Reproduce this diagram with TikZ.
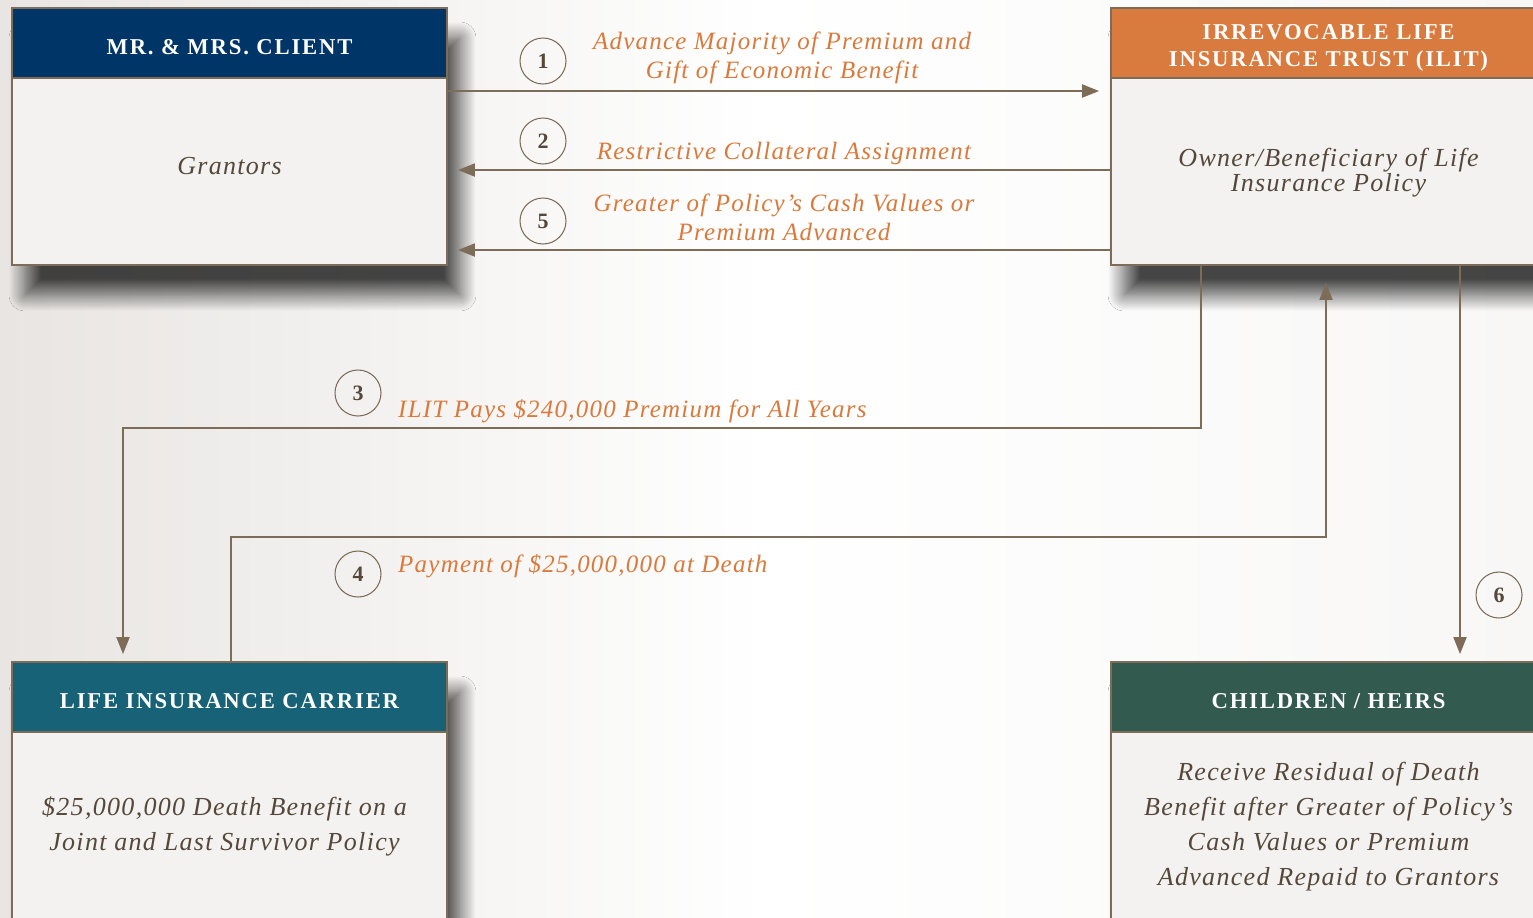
\documentclass[tikz,border=0pt]{standalone}
\usepackage{fontspec}
\setmainfont{Liberation Serif}
\newfontfamily\capsfont[LetterSpace=8]{Liberation Serif}
\newfontfamily\slantfont[LetterSpace=5]{Liberation Serif}
\usetikzlibrary{arrows.meta,calc,shadows.blur}

\definecolor{navy}{RGB}{0,53,103}
\definecolor{ilitorange}{RGB}{217,123,63}
\definecolor{carrierteal}{RGB}{23,98,118}
\definecolor{heirsgreen}{RGB}{50,90,78}
\definecolor{panel}{RGB}{243,242,240}
\definecolor{edge}{RGB}{124,108,88}
\definecolor{flowtext}{RGB}{217,122,60}
\definecolor{bodytext}{RGB}{85,72,58}
\definecolor{bgleft}{RGB}{232,229,226}
\definecolor{bgright}{RGB}{248,247,246}

\begin{document}
\begin{tikzpicture}[x=0.02cm,y=-0.02cm,
    box/.style={rectangle,draw=edge,line width=1.1pt,fill=panel,inner sep=0pt,
      minimum width=8.7cm,minimum height=5.14cm,
      blur shadow={shadow xshift=0.26cm,shadow yshift=-0.6cm,shadow blur radius=0.32cm,
        shadow blur steps=24,shadow opacity=72}},
    head/.style={rectangle,draw=edge,line width=1.1pt,inner sep=0pt,anchor=north,
      minimum width=8.7cm,minimum height=1.4cm},
    title/.style={align=center,text=white,yshift=-0.09cm,
      font=\capsfont\bfseries\fontsize{12.9}{15.3}\selectfont},
    inside/.style={align=center,text=bodytext,font=\slantfont\itshape\fontsize{14.8}{20}\selectfont},
    flowlabel/.style={align=center,text=flowtext,font=\slantfont\itshape\fontsize{14.2}{16.5}\selectfont},
    numcirc/.style={circle,draw=edge,line width=0.6pt,minimum size=0.92cm,inner sep=0pt,
      text=bodytext,font=\bfseries\fontsize{12.5}{12.5}\selectfont},
    flow/.style={draw=edge,line width=1.1pt,-{Triangle[length=0.34cm,width=0.26cm]}}]

  \useasboundingbox (0,0) rectangle (1533,917);
  \clip (0,0) rectangle (1533,917);
  \shade[left color=bgleft,right color=bgright,middle color=white] (0,0) rectangle (1533,917);

  % parties
  \node[box] (clientbox) at (229.5,136.5) {};
  \node[head,fill=navy] (clienthead) at (clientbox.north) {};
  \node[title] (clienttitle) at (clienthead.center) {MR. \& MRS. CLIENT};
  \node[inside,yshift=0.13cm] (client) at ($(clienthead.south)!.5!(clientbox.south)$) {Grantors};

  \node[box] (ilitbox) at (1328.5,136.5) {};
  \node[head,fill=ilitorange] (ilithead) at (ilitbox.north) {};
  \node[title] (ilittitle) at (ilithead.center) {IRREVOCABLE LIFE\\INSURANCE TRUST (ILIT)};
  \node[inside] (ilit) at ($(ilithead.south)!.5!(ilitbox.south)$) {Owner/Beneficiary of Life\\[-6pt]Insurance Policy};

  \node[box] (carrierbox) at (229.5,790.5) {};
  \node[head,fill=carrierteal] (carrierhead) at (carrierbox.north) {};
  \node[title] (carriertitle) at (carrierhead.center) {LIFE INSURANCE CARRIER};
  \node[inside,xshift=-0.1cm] (carrier) at ($(carrierhead.south)!.5!(carrierbox.south)$) {\$25,000,000 Death Benefit on a\\Joint and Last Survivor Policy};

  \node[box] (heirsbox) at (1328.5,790.5) {};
  \node[head,fill=heirsgreen] (heirshead) at (heirsbox.north) {};
  \node[title] (heirstitle) at (heirshead.center) {CHILDREN / HEIRS};
  \node[inside] (heirs) at ($(heirshead.south)!.5!(heirsbox.south)$) {Receive Residual of Death\\Benefit after Greater of Policy’s\\Cash Values or Premium\\Advanced Repaid to Grantors};

  % flow routing points
  \coordinate (y1) at (0,91);
  \coordinate (y2) at (0,170);
  \coordinate (y5) at (0,250);
  \coordinate (c3a) at (1201,428);
  \coordinate (c3b) at (123,428);
  \coordinate (c4a) at (231,537);
  \coordinate (c4b) at (1326,537);
  \coordinate (c6) at (1460,400);

  % flows
  \draw[flow,shorten >=0.22cm] (clientbox.east |- y1) -- (ilitbox.west |- y1);
  \draw[flow,shorten >=0.2cm] (ilitbox.west |- y2) -- (clientbox.east |- y2);
  \draw[flow,shorten >=0.2cm] (ilitbox.west |- y5) -- (clientbox.east |- y5);
  \draw[flow,shorten >=0.14cm] (ilitbox.south -| c3a) -- (c3a) -- (c3b) -- (c3b |- carrierbox.north);
  \draw[flow,shorten >=0.34cm] (carrierbox.north -| c4a) -- (c4a) -- (c4b) -- (c4b |- ilitbox.south);
  \draw[flow,shorten >=0.14cm] (ilitbox.south -| c6) -- (heirsbox.north -| c6);

  % step numbers
  \node[numcirc] (n1) at (543,61) {1};
  \node[numcirc] (n2) at (543,141) {2};
  \node[numcirc] (n5) at (543,221) {5};
  \node[numcirc] (n3) at (358,393) {3};
  \node[numcirc] (n4) at (358,574) {4};
  \node[numcirc] (n6) at (1499,595) {6};

  % flow labels
  \node[flowlabel] (l1) at (782,58) {Advance Majority of Premium and\\Gift of Economic Benefit};
  \node[flowlabel] (l2) at (784,153) {Restrictive Collateral Assignment};
  \node[flowlabel] (l5) at (784,217) {Greater of Policy’s Cash Values or\\Premium Advanced};
  \node[flowlabel,anchor=west] (l3) at (392,411) {ILIT Pays \$240,000 Premium for All Years};
  \node[flowlabel,anchor=west] (l4) at (392,566) {Payment of \$25,000,000 at Death};

\end{tikzpicture}
\end{document}
